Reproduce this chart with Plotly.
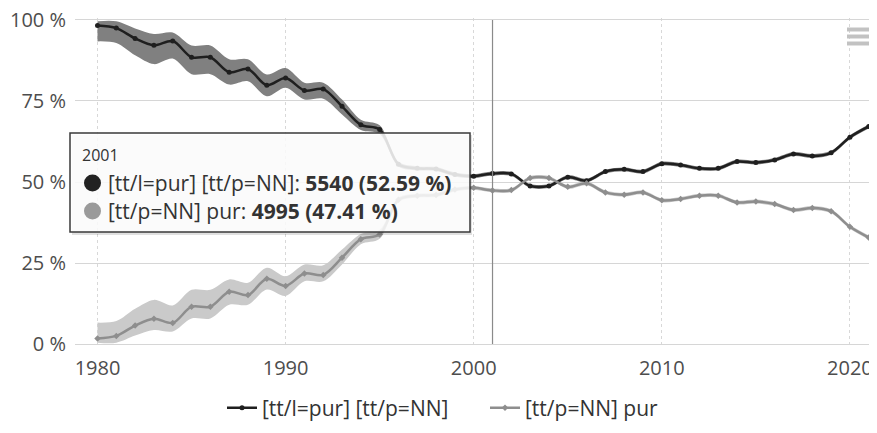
import plotly.graph_objects as go

years = list(range(1980, 2022))
series_names = ["[tt/l=pur] [tt/p=NN]", "[tt/p=NN] pur"]

share_a = [98.2, 97.4, 94.2, 92.1, 93.4, 88.4, 88.4, 83.8, 84.8, 79.8, 82.0, 78.2, 78.6, 73.3,
           67.6, 66.2, 55.5, 54.2, 54.0, 52.3, 51.8, 52.59, 52.5, 48.8, 48.8, 51.5, 50.4, 53.2,
           53.9, 53.2, 55.6, 55.2, 54.2, 54.2, 56.3, 56.0, 56.8, 58.6, 58.0, 59.0, 63.8, 67.1]
share_b = [1.8, 2.6, 5.8, 7.9, 6.6, 11.6, 11.6, 16.2, 15.2, 20.2, 18.0, 21.8, 21.4, 26.7,
           32.4, 33.8, 44.5, 45.8, 46.0, 47.7, 48.2, 47.41, 47.5, 51.2, 51.2, 48.5, 49.6, 46.8,
           46.1, 46.8, 44.4, 44.8, 45.8, 45.8, 43.7, 44.0, 43.2, 41.4, 42.0, 41.0, 36.2, 32.9]

a_lo = [93.3, 92.8, 89.0, 86.3, 88.0, 83.2, 83.2, 80.0, 81.0, 76.4, 79.0, 75.4, 75.6, 70.8,
        66.0, 64.8, 54.8, 53.6, 53.4, 51.7, 51.2, 52.0, 51.9, 48.2, 48.2, 50.9, 49.8, 52.6,
        53.3, 52.6, 55.0, 54.6, 53.6, 53.6, 55.7, 55.4, 56.2, 58.0, 57.4, 58.4, 63.2, 66.5]
a_hi = [99.5, 99.5, 97.3, 95.6, 96.0, 92.0, 92.0, 87.8, 87.8, 83.1, 85.1, 80.6, 80.6, 75.4,
        69.2, 67.5, 56.2, 54.8, 54.6, 52.9, 52.4, 53.2, 53.1, 49.4, 49.4, 52.1, 51.0, 53.8,
        54.5, 53.8, 56.2, 55.8, 54.8, 54.8, 56.9, 56.6, 57.4, 59.2, 58.6, 59.6, 64.4, 67.7]
b_lo = [0.5, 0.5, 2.7, 4.4, 4.0, 8.0, 8.0, 12.2, 12.2, 16.9, 14.9, 19.4, 19.4, 24.6,
        30.8, 32.5, 43.8, 45.2, 45.4, 47.1, 47.6, 46.8, 46.9, 50.6, 50.6, 47.9, 49.0, 46.2,
        45.5, 46.2, 43.8, 44.2, 45.2, 45.2, 43.1, 43.4, 42.6, 40.8, 41.4, 40.4, 35.6, 32.3]
b_hi = [6.7, 7.2, 11.0, 13.7, 12.0, 16.8, 16.8, 20.0, 19.0, 23.6, 21.0, 24.6, 24.4, 29.2,
        34.0, 35.2, 45.2, 46.4, 46.6, 48.3, 48.8, 48.0, 48.1, 51.8, 51.8, 49.1, 50.2, 47.4,
        46.7, 47.4, 45.0, 45.4, 46.4, 46.4, 44.3, 44.6, 43.8, 42.0, 42.6, 41.6, 36.8, 33.5]

x_ticks = [1980, 1990, 2000, 2010, 2020]
y_ticks = [0, 25, 50, 75, 100]
y_tick_labels = ["0 %", "25 %", "50 %", "75 %", "100 %"]

tooltip_year = 2001
tooltip_counts = [5540, 4995]

# page body has an 8px margin: build the figure 8px smaller and work in page pixels
OFF = 8
PAGE_W, PAGE_H = 877, 433
W, H = PAGE_W - OFF, PAGE_H - OFF
P_LEFT, P_RIGHT, P_TOP, P_BOTTOM = 75, 877, 18, 346   # plot area in page pixels
ML, MR, MT, MB = P_LEFT - OFF, 0, P_TOP - OFF, PAGE_H - P_BOTTOM
PW, PH = P_RIGHT - P_LEFT, P_BOTTOM - P_TOP
FONT = "Open Sans"

def px_x(px):
    return (px - P_LEFT) / PW

def px_y(py):
    return (P_BOTTOM - py) / PH

fig = go.Figure()

line_colors = ["#1f1f1f", "#8e8e8e"]
dot_colors = ["#222222", "#9a9a9a"]
band_colors = ["rgb(128,128,128)", "rgb(202,202,202)"]
symbols = ["circle", "diamond"]

for lo, hi, bc in [(a_lo, a_hi, band_colors[0]), (b_lo, b_hi, band_colors[1])]:
    fig.add_trace(go.Scatter(x=years, y=lo, mode="lines", line=dict(width=0, shape="spline", smoothing=0.9),
                             showlegend=False, hoverinfo="skip"))
    fig.add_trace(go.Scatter(x=years, y=hi, mode="lines", line=dict(width=0, shape="spline", smoothing=0.9),
                             fill="tonexty", fillcolor=bc, showlegend=False, hoverinfo="skip"))

for vals, name, c, sym in zip([share_a, share_b], series_names, line_colors, symbols):
    fig.add_trace(go.Scatter(x=years, y=vals, name=name, mode="lines+markers",
                             line=dict(color=c, width=2.5, shape="spline", smoothing=0.9),
                             marker=dict(color=c, size=5, symbol=sym)))

shapes = []
# crosshair
shapes.append(dict(type="line", xref="x", yref="paper", x0=tooltip_year, x1=tooltip_year,
                   y0=px_y(344), y1=px_y(20), line=dict(color="#8a8a8a", width=1.2), layer="above"))
# tooltip shadow + box
shapes.append(dict(type="rect", xref="paper", yref="paper", x0=px_x(72), x1=px_x(472),
                   y0=px_y(235), y1=px_y(135), fillcolor="rgba(0,0,0,0.12)", line=dict(width=0), layer="above"))
shapes.append(dict(type="rect", xref="paper", yref="paper", x0=px_x(70), x1=px_x(470),
                   y0=px_y(232), y1=px_y(133), fillcolor="rgba(255,255,255,0.86)",
                   line=dict(color="#3a3a3a", width=1.5), layer="above"))
# tooltip dots
for i, c in enumerate(dot_colors):
    cy = 183 + 28 * i
    shapes.append(dict(type="circle", xref="paper", yref="paper", x0=px_x(84), x1=px_x(101),
                       y0=px_y(cy + 8.5), y1=px_y(cy - 8.5), fillcolor=c, line=dict(width=0), layer="above"))
# menu icon
for y0, y1 in [(27.5, 31.5), (34.5, 38.5), (41.5, 45.5)]:
    shapes.append(dict(type="rect", xref="paper", yref="paper", x0=px_x(847), x1=px_x(873),
                       y0=px_y(y1), y1=px_y(y0), fillcolor="#c2c2c2", line=dict(width=0), layer="above"))

total = sum(tooltip_counts)
annotations = [dict(xref="paper", yref="paper", x=px_x(80), y=px_y(155), xanchor="left", yanchor="middle",
                    text=str(tooltip_year), showarrow=False, font=dict(family=FONT, size=16, color="#333"))]
for i, (name, cnt) in enumerate(zip(series_names, tooltip_counts)):
    pct = cnt / total * 100
    txt = f'{name}: <b>{cnt} ({pct:.2f} %)</b>'
    annotations.append(dict(xref="paper", yref="paper", x=px_x(106), y=px_y(183 + 28 * i),
                            xanchor="left", yanchor="middle", text=txt, showarrow=False,
                            font=dict(family=FONT, size=21, color="#333")))

fig.update_layout(
    width=W, height=H,
    margin=dict(l=ML, r=MR, t=MT, b=MB, autoexpand=False),
    paper_bgcolor="white", plot_bgcolor="white",
    font=dict(family=FONT, color="#4d4d4d"),
    showlegend=True,
    legend=dict(orientation="h", x=px_x(222), xanchor="left", y=px_y(408), yanchor="middle",
                traceorder="normal", entrywidth=218, entrywidthmode="pixels",
                font=dict(family=FONT, size=21, color="#333"), itemwidth=30, tracegroupgap=0),
    hovermode=False,
    xaxis=dict(range=[1978.804, 2021.44], tickvals=x_ticks, showgrid=True, gridcolor="#d8d8d8",
               griddash="dot", gridwidth=1, zeroline=False, showline=False, automargin=False,
               tickfont=dict(family=FONT, size=20, color="#4d4d4d"), ticks="", ticklabelstandoff=8,
               ticklabeloverflow="allow"),
    yaxis=dict(range=[-0.5, 100.5], tickvals=y_ticks, ticktext=y_tick_labels, showgrid=True,
               gridcolor="#d6d6d6", gridwidth=1.2, zeroline=False, showline=False, automargin=False,
               tickfont=dict(family=FONT, size=20, color="#4d4d4d"), ticks="", ticklabelstandoff=8,
               ticklabeloverflow="allow"),
    shapes=shapes,
    annotations=annotations,
)

fig.write_html("out.html", config={"displayModeBar": False})
